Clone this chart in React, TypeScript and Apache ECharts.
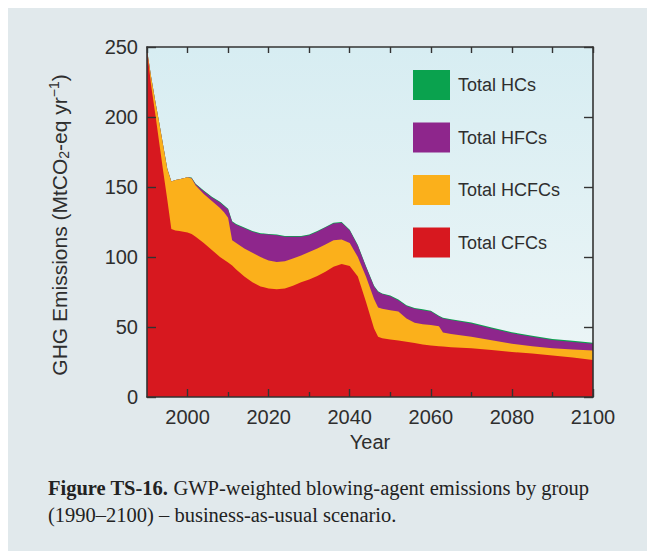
import React, { useEffect, useRef } from 'react';
import * as echarts from 'echarts';

const years = [
  1990, 1991, 1992, 1993, 1994, 1995, 1996, 1997, 1998,
  2000, 2001, 2002,
  2004, 2006, 2008,
  2009, 2010, 2011, 2012,
  2014, 2016, 2018, 2020, 2022, 2024, 2026, 2028, 2030, 2032, 2034, 2036, 2038, 2040,
  2042, 2044, 2046, 2047, 2048, 2050,
  2052, 2054, 2056, 2058, 2060, 2062, 2063, 2065,
  2070, 2075, 2080, 2085, 2090, 2095, 2100,
];

const cfcValues = [
  248, 223, 203, 182, 161, 141, 120, 119, 118.5,
  117.5, 116.5, 114.5,
  110, 105, 100,
  98, 96, 94, 91,
  86, 82, 79, 77.5, 77, 77.5, 79.5, 82, 84, 86.5, 89.5, 93, 95, 93.5,
  86, 68, 49, 43, 42, 41,
  40.3, 39.5, 38.5, 37.5, 36.8, 36.2, 36, 35.6,
  34.8, 33.6, 32.2, 31, 29.7, 28.2, 26.5,
];

const hcfcValues = [
  0, 6, 9, 14, 18.5, 22, 34, 36, 37,
  39.5, 39.5, 36.5,
  35, 35, 35,
  34, 32, 18, 19,
  20, 21, 21, 20, 19.5, 19.5, 19.5, 19, 19.5, 19.5, 19.5, 19, 17.5, 16.5,
  14, 18, 21, 21, 21, 21,
  20.7, 16.5, 14.5, 14.5, 14.7, 14.3, 10, 9.4,
  8.2, 6.9, 5.8, 5.3, 5.1, 5.8, 6.8,
];

const hfcValues = [
  0, 0, 0, 0, 0, 0, 0, 0, 0,
  0, 0.5, 1,
  2, 2.5, 4,
  4.5, 6, 13, 13,
  14.5, 15, 16.5, 18.5, 19, 17.5, 15.5, 13.5, 12, 12, 12, 12, 12, 9,
  8, 7, 9, 11, 10.5, 10,
  8, 9, 10, 10, 9.5, 7, 10, 10,
  9.5, 8.5, 7.5, 6.7, 5.9, 5.3, 4.7,
];

const hcValues = [
  0, 0, 0, 0, 0, 0, 0, 0, 0,
  0, 0.3, 0.4,
  0.5, 0.5, 0.5,
  0.5, 0.5, 0.5, 0.5,
  0.5, 0.5, 0.5, 0.5, 0.5, 0.5, 0.5, 0.5, 0.5, 0.5, 0.5, 0.5, 0.5, 0.5,
  0.5, 0.5, 0.5, 0.5, 0.5, 0.5,
  0.6, 0.6, 0.6, 0.6, 0.6, 0.6, 0.6, 0.6,
  0.7, 0.7, 0.8, 0.8, 0.8, 0.8, 0.8,
];

// bottom-to-top stacking order
const seriesNames = ['Total CFCs', 'Total HCFCs', 'Total HFCs', 'Total HCs'];
const seriesColors = ['#d7181f', '#fbb01b', '#8e268c', '#0aa24e'];
const legendOrder = ['Total HCs', 'Total HFCs', 'Total HCFCs', 'Total CFCs'];

const xLabelYears = [2000, 2020, 2040, 2060, 2080, 2100];
const xMinorYears = [2010, 2030, 2050, 2070, 2090];

const FONT = 'Liberation Sans, Arial, Helvetica, sans-serif';
const SERIF = 'Liberation Serif, Times New Roman, serif';
const TEXT = '#2e2e2e';
const AXIS = '#333333';

export default function App() {
  const ref = useRef<HTMLDivElement>(null);

  useEffect(() => {
    if (!ref.current) return;
    const chart = echarts.init(ref.current, null, { renderer: 'svg' });

    const valueSets = [cfcValues, hcfcValues, hfcValues, hcValues];
    // cumulative tops of each band (stack computed from the arrays above)
    const cumulative: number[][] = [];
    valueSets.forEach((vals, k) => {
      cumulative.push(vals.map((v, i) => v + (k > 0 ? cumulative[k - 1][i] : 0)));
    });

    const series = seriesNames.map((name, k) => ({
      name,
      type: 'line',
      data: years.map((y, i) => [y, cumulative[k][i]]),
      symbol: 'none',
      showSymbol: false,
      smooth: false,
      lineStyle: { width: 0, color: seriesColors[k] },
      itemStyle: { color: seriesColors[k] },
      areaStyle: { color: seriesColors[k], opacity: 1 },
      z: 6 - k,
      silent: true,
    }));

    const option: any = {
      animation: false,
      backgroundColor: '#e1e9ec',
      grid: {
        left: 139,
        top: 39,
        width: 446,
        height: 350,
        show: true,
        borderWidth: 0,
        backgroundColor: new echarts.graphic.LinearGradient(0, 0, 0, 1, [
          { offset: 0, color: '#d7edf2' },
          { offset: 1, color: '#eef6f7' },
        ]),
      },
      legend: {
        orient: 'vertical',
        left: 405,
        top: 62,
        padding: 0,
        icon: 'rect',
        itemWidth: 37,
        itemHeight: 30,
        itemGap: 22.5,
        data: legendOrder,
        selectedMode: false,
        textStyle: { fontSize: 18, fontFamily: FONT, color: TEXT, padding: [0, 0, 0, 3] },
      },
      xAxis: [
        {
          type: 'value',
          min: 1990,
          max: 2100,
          interval: 10,
          position: 'bottom',
          z: 10,
          axisLine: { show: true, lineStyle: { color: AXIS, width: 1.6 } },
          axisTick: { show: true, inside: true, length: 8, customValues: xLabelYears, lineStyle: { color: AXIS, width: 1.4 } },
          axisLabel: {
            show: true,
            customValues: xLabelYears,
            formatter: (v: number) => String(v),
            fontSize: 20,
            fontFamily: FONT,
            color: TEXT,
            margin: 10,
          },
          splitLine: { show: false },
          name: 'Year',
          nameLocation: 'middle',
          nameGap: 35,
          nameTextStyle: { fontSize: 20, fontFamily: FONT, color: TEXT },
        },
        {
          type: 'value',
          min: 1990,
          max: 2100,
          interval: 10,
          position: 'bottom',
          z: 10,
          axisLine: { show: false },
          axisTick: { show: true, inside: true, length: 5, customValues: xMinorYears, lineStyle: { color: AXIS, width: 1.4 } },
          axisLabel: { show: false },
          splitLine: { show: false },
        },
        {
          type: 'value',
          min: 1990,
          max: 2100,
          interval: 10,
          position: 'top',
          z: 10,
          axisLine: { show: true, lineStyle: { color: AXIS, width: 1.6 } },
          axisTick: { show: true, inside: true, length: 6, lineStyle: { color: AXIS, width: 1.4 } },
          axisLabel: { show: false },
          splitLine: { show: false },
        },
      ],
      yAxis: [
        {
          type: 'value',
          min: 0,
          max: 250,
          interval: 50,
          position: 'left',
          z: 10,
          axisLine: { show: true, lineStyle: { color: AXIS, width: 1.6 } },
          axisTick: { show: true, inside: true, length: 9, lineStyle: { color: AXIS, width: 1.4 } },
          axisLabel: { show: true, fontSize: 20, fontFamily: FONT, color: TEXT, margin: 9 },
          splitLine: { show: false },
        },
        {
          type: 'value',
          min: 0,
          max: 250,
          interval: 50,
          position: 'right',
          z: 10,
          axisLine: { show: true, lineStyle: { color: AXIS, width: 1.6 } },
          axisTick: { show: true, inside: true, length: 9, lineStyle: { color: AXIS, width: 1.4 } },
          axisLabel: { show: false },
          splitLine: { show: false },
        },
      ],
      series,
      graphic: [
        {
          type: 'text',
          x: 51,
          y: 217,
          rotation: Math.PI / 2,
          silent: true,
          style: {
            text: '{m|GHG Emissions (MtCO}{sub|2}{m|-eq yr}{sup|−1}{m|)}',
            align: 'center',
            verticalAlign: 'middle',
            rich: {
              m: { fontSize: 21, fontFamily: FONT, fill: TEXT, lineHeight: 28, verticalAlign: 'middle' },
              sub: { fontSize: 14, fontFamily: FONT, fill: TEXT, lineHeight: 28, verticalAlign: 'bottom', padding: [0, 0, 2, 0] },
              sup: { fontSize: 14, fontFamily: FONT, fill: TEXT, lineHeight: 28, verticalAlign: 'top', padding: [2, 0, 0, 0] },
            },
          },
        },
        {
          type: 'text',
          x: 40,
          y: 466,
          silent: true,
          style: {
            text: '{b|Figure TS-16.} GWP-weighted blowing-agent emissions by group\n(1990–2100) – business-as-usual scenario.',
            fontFamily: SERIF,
            fontSize: 20.5,
            lineHeight: 27,
            fill: '#222222',
            align: 'left',
            verticalAlign: 'top',
            rich: {
              b: { fontFamily: SERIF, fontSize: 20.5, lineHeight: 27, fontWeight: 'bold', fill: '#222222' },
            },
          },
        },
      ],
    };

    chart.setOption(option);
    return () => {
      chart.dispose();
    };
  }, []);

  return (
    <div
      ref={ref}
      style={{ position: 'fixed', left: 8, top: 8, width: 639, height: 543 }}
    />
  );
}
